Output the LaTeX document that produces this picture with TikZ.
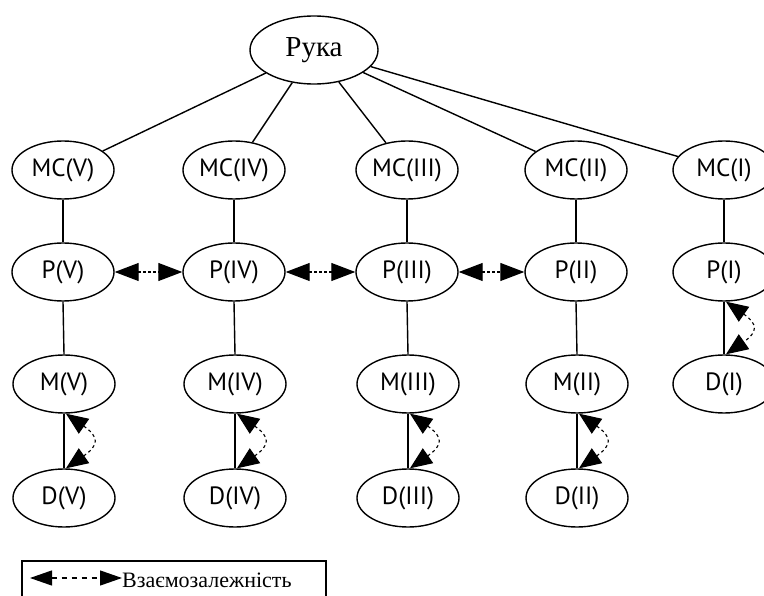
\documentclass[tikz,border=0pt]{standalone}
\usepackage{fontspec}
\setmainfont{Liberation Serif}
\newfontfamily\partfont{PT Sans}
\usetikzlibrary{shapes.geometric, arrows.meta}
\begin{document}
\begin{tikzpicture}[x=1pt, y=1pt,
  part/.style={ellipse, draw, line width=1.4pt, minimum width=102pt,
    minimum height=58pt, inner sep=0pt,
    font=\partfont\fontsize{25}{25}\selectfont},
  root/.style={ellipse, draw, line width=1.4pt, minimum width=128pt,
    minimum height=68pt, inner sep=0pt,
    font=\fontsize{29}{29}\selectfont},
  link/.style={line width=1.4pt},
  mutual/.style={line width=1.1pt, dash pattern=on 2.5pt off 2.5pt,
    {Triangle[length=24pt, width=18pt]}-{Triangle[length=24pt, width=18pt]}},
  mutualarc/.style={line width=1.1pt, dash pattern=on 3pt off 3pt,
    {Triangle[length=22pt, width=18pt]}-{Triangle[length=22pt, width=18pt]}},
  legendarrow/.style={line width=1.2pt, dash pattern=on 5pt off 5pt,
    {Triangle[length=22pt, width=15pt]}-{Triangle[length=22pt, width=15pt]}}
]
\clip (0,0) rectangle (764,-596);
\useasboundingbox (0,0) rectangle (764,-596);

% root
\node[root] (hand) at (314,-50) {Рука};

% metacarpals
\node[part] (mc5) at (63,-170)  {MC(V)};
\node[part] (mc4) at (234,-170) {MC(IV)};
\node[part] (mc3) at (407,-170) {MC(III)};
\node[part] (mc2) at (576,-170) {MC(II)};
\node[part] (mc1) at (724,-170) {MC(I)};

% proximal phalanges
\node[part] (p5) at (63,-272)  {P(V)};
\node[part] (p4) at (234,-272) {P(IV)};
\node[part] (p3) at (407,-272) {P(III)};
\node[part] (p2) at (576,-272) {P(II)};
\node[part] (p1) at (724,-272) {P(I)};

% middle phalanges
\node[part] (m5) at (64,-384)  {M(V)};
\node[part] (m4) at (235,-384) {M(IV)};
\node[part] (m3) at (408,-384) {M(III)};
\node[part] (m2) at (577,-384) {M(II)};

% distal phalanges
\node[part] (d5) at (64,-498)  {D(V)};
\node[part] (d4) at (235,-498) {D(IV)};
\node[part] (d3) at (408,-498) {D(III)};
\node[part] (d2) at (577,-498) {D(II)};
\node[part] (d1) at (724,-384) {D(I)};

% hierarchy
\foreach \c in {mc5,mc4,mc3,mc2,mc1}
  \draw[link] (hand) -- (\c);
\foreach \a/\b in {mc5/p5, mc4/p4, mc3/p3, mc2/p2, mc1/p1,
                   p5/m5, p4/m4, p3/m3, p2/m2,
                   m5/d5, m4/d4, m3/d3, m2/d2, p1/d1}
  \draw[link] (\a.south) -- (\b.north);

% interdependences between neighbouring proximal phalanges
\draw[mutual] (p5) -- (p4);
\draw[mutual] (p4) -- (p3);
\draw[mutual] (p3) -- (p2);

% interdependences within a finger
\foreach \a/\b in {m5/d5, m4/d4, m3/d3, m2/d2, p1/d1}
  \draw[mutualarc] ([xshift=2pt]\a.south)
    to[out=-35, in=35, looseness=1.9] ([xshift=2pt]\b.north);

% legend
\draw[link] (22,-561) rectangle (326,-640);
\coordinate (legA) at (30,-578);
\coordinate (legB) at (122,-578);
\draw[legendarrow] (legA) -- (legB);
\node[anchor=base west, inner sep=0pt, font=\fontsize{22}{22}\selectfont]
  (legtext) at (122,-587) {Взаємозалежність};
\end{tikzpicture}
\end{document}
